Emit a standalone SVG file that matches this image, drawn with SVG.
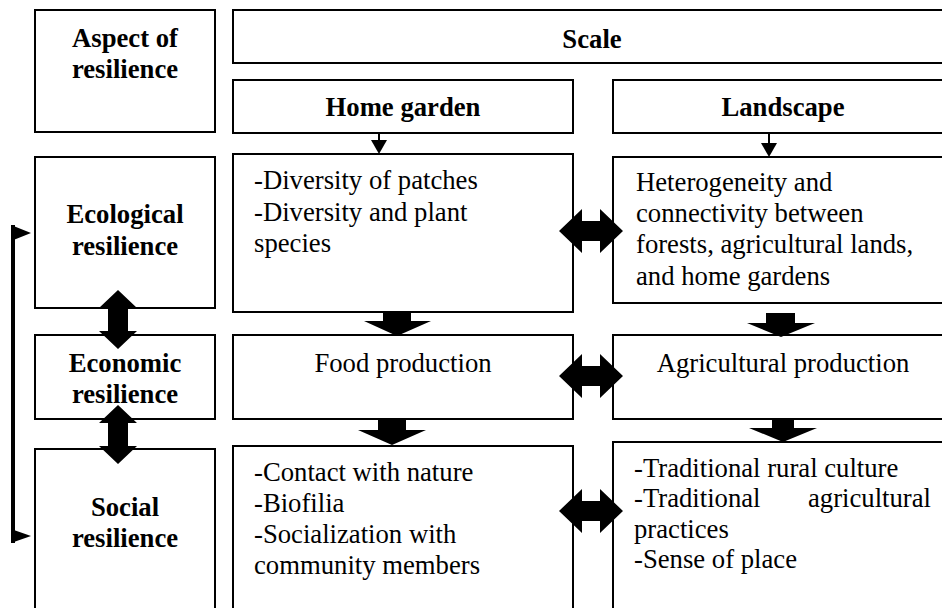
<svg xmlns="http://www.w3.org/2000/svg" width="942" height="608" viewBox="0 0 942 608">
<style>
.box{fill:#fff;stroke:#000;stroke-width:2}
.t{font-family:"Liberation Serif","Times New Roman",serif;font-size:26.7px;fill:#000}
.b{font-weight:bold;text-anchor:middle}
.c{text-anchor:middle}
.blk{fill:#000;stroke:none}
</style>
<defs>
<path id="hdbl" d="M -32,0 L -9,-22 L -9,-10 L 9,-10 L 9,-22 L 32,0 L 9,22 L 9,10 L -9,10 L -9,22 Z"/>
<path id="vdbl" d="M 0,-29.5 L 19,-11.5 L 10,-11.5 L 10,11.5 L 19,11.5 L 0,29.5 L -19,11.5 L -10,11.5 L -10,-11.5 L -19,-11.5 Z"/>
</defs>
<rect width="942" height="608" fill="#fff"/>
<g id="aspect"><rect class="box" x="35" y="10" width="180" height="122"/><text class="t b" x="125" y="47">Aspect of</text><text class="t b" x="125" y="78">resilience</text></g>
<g id="scale"><rect class="box" x="233" y="10" width="720" height="53"/><text class="t b" x="592" y="48">Scale</text></g>
<g id="homegarden"><rect class="box" x="233" y="80" width="340" height="53"/><text class="t b" x="403" y="116">Home garden</text></g>
<g id="landscape"><rect class="box" x="613" y="80" width="340" height="53"/><text class="t b" x="783" y="116">Landscape</text></g>
<g id="ecological"><rect class="box" x="35" y="157" width="180" height="151"/><text class="t b" x="125" y="223">Ecological</text><text class="t b" x="125" y="255">resilience</text></g>
<g id="hg-eco"><rect class="box" x="233" y="154" width="340" height="158"/><text class="t" x="254" y="189">-Diversity of patches</text><text class="t" x="254" y="221">-Diversity and plant</text><text class="t" x="254" y="252">species</text></g>
<g id="ls-eco"><rect class="box" x="613" y="157" width="340" height="146"/><text class="t" x="636" y="191">Heterogeneity and</text><text class="t" x="636" y="222">connectivity between</text><text class="t" x="636" y="253">forests, agricultural lands,</text><text class="t" x="636" y="285">and home gardens</text></g>
<g id="economic"><rect class="box" x="35" y="335" width="180" height="84"/><text class="t b" x="125" y="372">Economic</text><text class="t b" x="125" y="403">resilience</text></g>
<g id="hg-econ"><rect class="box" x="233" y="335" width="340" height="84"/><text class="t c" x="403" y="372">Food production</text></g>
<g id="ls-econ"><rect class="box" x="613" y="335" width="340" height="84"/><text class="t c" x="783" y="372">Agricultural production</text></g>
<g id="social"><rect class="box" x="35" y="449" width="180" height="170"/><text class="t b" x="125" y="516">Social</text><text class="t b" x="125" y="547">resilience</text></g>
<g id="hg-soc"><rect class="box" x="233" y="446" width="340" height="173"/><text class="t" x="254" y="481">-Contact with nature</text><text class="t" x="254" y="512">-Biofilia</text><text class="t" x="254" y="543">-Socialization with</text><text class="t" x="254" y="574">community members</text></g>
<g id="ls-soc"><rect class="box" x="613" y="442" width="340" height="177"/><text class="t" x="634" y="477">-Traditional rural culture</text><text class="t" y="507"><tspan x="634">-Traditional</tspan><tspan x="808">agricultural</tspan></text><text class="t" x="634" y="538">practices</text><text class="t" x="634" y="568">-Sense of place</text></g>
<g id="connectors">
<line x1="379" y1="133" x2="379" y2="142" stroke="#000" stroke-width="2"/>
<polygon class="blk" points="371,140 387,140 379,154"/>
<line x1="769" y1="133" x2="769" y2="145" stroke="#000" stroke-width="2"/>
<polygon class="blk" points="761,143 777,143 769,157"/>
<polygon class="blk" points="383,312 411,312 411,321 431,321 397,336 364,321 383,321"/>
<polygon class="blk" points="766,313 795,313 795,323 815,323 781,337 747,323 766,323"/>
<polygon class="blk" points="378,419 406,419 406,430 426,430 392,445 358,430 378,430"/>
<polygon class="blk" points="772,419 794,419 794,428 817,428 783,442 749,428 772,428"/>
<use href="#hdbl" class="blk" x="591" y="231"/>
<use href="#hdbl" class="blk" x="591" y="376"/>
<use href="#hdbl" class="blk" x="591" y="511"/>
<use href="#vdbl" class="blk" x="118" y="319.5"/>
<use href="#vdbl" class="blk" x="118" y="434.5"/>
<line x1="13" y1="225" x2="13" y2="543" stroke="#000" stroke-width="4"/>
<polygon class="blk" points="11,225 31,233 11,241"/>
<polygon class="blk" points="11,529 31,536 11,543"/>
</g>
</svg>
